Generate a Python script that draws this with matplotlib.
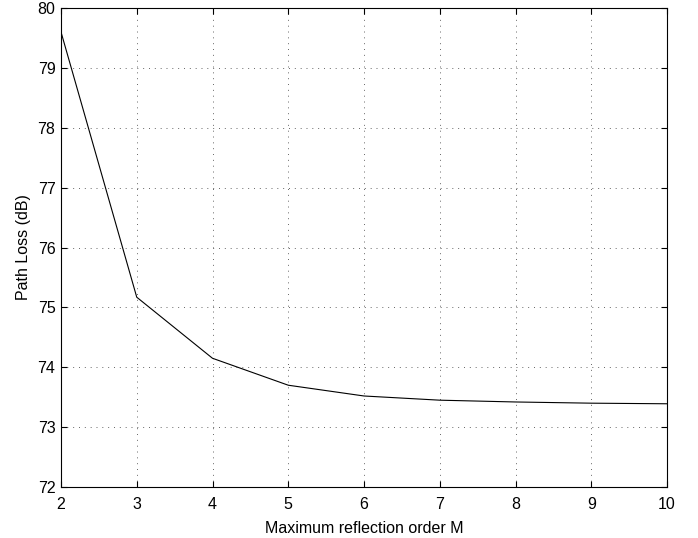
import matplotlib
matplotlib.use("Agg")
import matplotlib.pyplot as plt

# Path loss vs maximum reflection order
order_m = [2, 3, 4, 5, 6, 7, 8, 9, 10]
path_loss_db = [79.6, 75.17, 74.15, 73.7, 73.52, 73.45, 73.42, 73.4, 73.39]

plt.rcParams["font.family"] = ["Liberation Sans", "DejaVu Sans"]

fig = plt.figure(figsize=(6.98, 5.38), dpi=100)
ax = fig.add_axes([61 / 698, 1 - 487 / 538, 606 / 698, 479 / 538])

ax.plot(order_m, path_loss_db, color="black", linewidth=0.8)

ax.set_xlim(2, 10)
ax.set_ylim(72, 80)
ax.set_xticks(range(2, 11))
ax.set_yticks(range(72, 81))
ax.grid(True, linestyle=(0, (1, 5)), color="#666666", linewidth=0.7)
ax.tick_params(direction="in", top=True, right=True, labelsize=11.5, length=4)
ax.tick_params(axis="x", pad=7)
ax.tick_params(axis="y", pad=4)
for s in ax.spines.values():
    s.set_linewidth(0.8)

ax.set_xlabel("Maximum reflection order M", fontsize=11.5, labelpad=7)
ax.set_ylabel("Path Loss (dB)", fontsize=11.5, labelpad=5)

fig.savefig("out.png", dpi=100)
